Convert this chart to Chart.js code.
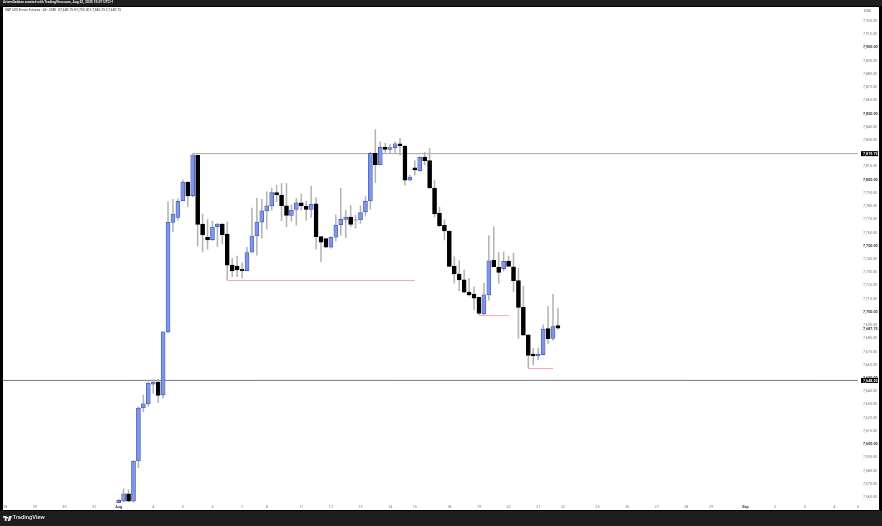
<!DOCTYPE html>
<html><head><meta charset="utf-8">
<script src="https://cdn.jsdelivr.net/npm/chart.js@4"></script>
<style>
html,body{margin:0;padding:0;width:882px;height:526px;background:#1e1e1e;overflow:hidden;font-family:Roboto,"Liberation Sans",sans-serif}
#frame{position:absolute;left:0;top:6px;width:882px;height:505px;background:#000}
#panel{position:absolute;left:3px;top:7px;width:876px;height:503px;background:#fff}
canvas{position:absolute;left:0;top:0}
.t{position:absolute;white-space:nowrap;line-height:1}
#head{left:3px;top:1.2px;font-size:3.4px;font-weight:700;color:#eee}
#title{left:5px;top:9.4px;font-size:3.4px;color:#333}
#usd{left:864px;top:9.5px;font-size:3.7px;color:#555}
#brand{left:12.6px;top:515px;font-size:5.8px;font-weight:500;color:#e8e8e8}
#logo{position:absolute;left:3px;top:515.5px}
</style></head><body>
<div id="frame"></div><div id="panel"></div>
<canvas id="c" width="882" height="526"></canvas>
<div class="t" id="head">ArtemGalaian created with TradingView.com, Aug 22, 2025 10:07 UTC+1</div>
<div class="t" id="title">S&amp;P 500 E-mini Futures · 4h · CME&nbsp; O7,689.75 H7,703.00 L7,686.75 C7,687.75</div>
<div class="t" id="usd">USD</div>
<svg id="logo" width="9" height="5" viewBox="0 0 36 20"><path fill="#e8e8e8" d="M0 0h14v20H7V7H0zM17 3a3.5 3.5 0 1 1 0 7 3.5 3.5 0 0 1 0-7zM24 0h12l-8 20h-9z"/></svg>
<div class="t" id="brand">TradingView</div>
<script>
const opens = [7555.75,7557,7562.5,7557,7587.5,7627.5,7630.5,7645.5,7647,7637.25,7685,7767.75,7771.5,7784.25,7798.25,7788,7818.5,7766.5,7756.5,7754.75,7764.5,7766.5,7759,7735.5,7734.75,7732.25,7731.25,7745.25,7757.5,7768,7776.5,7780.25,7790.25,7788.5,7780.25,7773,7777.5,7782.5,7780,7777.5,7781.75,7757,7755.5,7749,7756.5,7766,7770,7771.75,7769.5,7769.75,7775.75,7784,7820,7811.5,7824.5,7823,7824.25,7827.25,7825.5,7799.75,7809,7806.75,7817.25,7814.5,7793.75,7774.75,7765.5,7761.25,7734.5,7728.75,7724.25,7715,7713.5,7711,7698.75,7713,7739,7734,7732.75,7738.5,7734.25,7723.75,7703.5,7682.75,7668.25,7666.75,7667.75,7687.5,7680,7689.75];
const highs = [7558.25,7566.25,7565.5,7587.5,7628.25,7637.25,7647.25,7649,7649.25,7685,7783.5,7785.25,7785.5,7799.75,7798.5,7819.75,7818.75,7774,7770,7768.75,7767,7767,7768,7740.5,7742.25,7737.25,7749,7778.5,7786,7785.25,7791,7793.75,7796,7797.25,7797.25,7781,7786,7789.25,7783.75,7795.25,7786.5,7757.25,7755.5,7757,7773.25,7793.5,7777,7780.5,7773.25,7780.25,7787.25,7820.75,7838,7828.75,7827.5,7827,7828.75,7831.25,7826,7803.5,7814.5,7817.5,7820.75,7823.75,7799.75,7779.25,7770,7761.5,7741.75,7738.75,7731.75,7725.5,7719,7711.25,7721.75,7757.75,7764.5,7745,7745.5,7742.25,7744.5,7733,7719.5,7682.75,7672.5,7672.5,7690.25,7704.5,7713.5,7703];
const lows = [7555.75,7556.5,7556.5,7556.25,7582.25,7624.5,7628.5,7638.5,7631.5,7634.75,7684,7760.75,7769.5,7784,7779.5,7787,7750,7745.5,7747.5,7754,7749.5,7751.5,7724.25,7726.75,7726.75,7725.5,7731.25,7745,7743,7755.75,7762.75,7777,7783.5,7769,7764.5,7768.75,7765.75,7777,7769.5,7771.5,7747.5,7738,7748.5,7748.25,7753.75,7758,7756.25,7764.5,7763.25,7767,7772.5,7777.75,7797.75,7811.25,7820,7820,7820,7818.75,7796,7799.5,7803.5,7806.5,7811.25,7793.5,7772,7764.5,7754.5,7734.25,7721.75,7716,7714.5,7712,7701.5,7698.25,7697.75,7709,7734.25,7721.75,7731,7734.5,7715.25,7680,7682.5,7657.5,7660,7663.75,7667.5,7676.25,7678.75,7686.75];
const closes = [7557.5,7562.5,7557,7587.25,7627.25,7630.5,7646.25,7647,7637,7685,7767.75,7774,7783.75,7798.25,7787.75,7818.75,7766.25,7758.25,7754.5,7764.25,7766.5,7758.5,7735.5,7731,7731.75,7731.25,7745,7757.5,7768,7776.5,7780.25,7790.25,7788.75,7780.5,7773,7777,7782.5,7780.5,7777.5,7781.5,7757,7752.75,7749,7756.5,7765.75,7770,7771.75,7766.25,7769.75,7775.25,7783.75,7820,7811.5,7824.5,7823,7824.25,7827.25,7825.75,7799.75,7802,7807.5,7817,7814.5,7793.75,7774.25,7765.25,7761.25,7734.5,7728.75,7724.25,7715,7713,7710.5,7699,7713,7738.75,7734.25,7730,7738.25,7734.5,7723.75,7703.5,7682.5,7667.25,7666.75,7668,7687,7679.75,7689,7687.75];

const yTickValues = [7560,7570,7580,7590,7600,7610,7620,7630,7640,7650,7660,7670,7680,7690,7700,7710,7720,7730,7740,7750,7760,7770,7780,7790,7800,7810,7820,7830,7840,7850,7860,7870,7880,7890,7900,7910,7920];
const xTickLabels = ['28','29','30','31','Aug','4','5','6','7','8','11','12','13','14','15','18','19','20','21','22','25','26','27','28','29','Sep','2','3','4','5'];
const xTickBars = [-23,-17,-11,-5,0,7,13,19,25,30,37,43,49,55,60,67,73,79,85,90,97,103,109,115,120,127,133,139,145,149.75];

const resistanceLevel = 7819.75, supportLevel = 7648.25, lastPrice = 7687.75;
const xMin = -23.44, xMax = 149.8, yMin = 7554.8, yMax = 7929.9;
const sweepLows = [[22,60,7723.75],[73,79,7697.25],[83,88,7657.25]];

const idx = opens.map((_, i) => i);
const fmt = v => v.toLocaleString('en-US',{minimumFractionDigits:2,maximumFractionDigits:2});
const UP='#7d95ea', UPB='#3f52a6', DOWN='#000000';
const segment = (data,color,width)=>({type:'line',data,borderColor:color,borderWidth:width,pointRadius:0,order:3,fill:false,tension:0});

const datasets = [
  ...sweepLows.map(s=>segment([{x:s[0],y:s[2]},{x:s[1],y:s[2]}],'#f4a6ad',1)),
  segment([{x:15,y:resistanceLevel},{x:xMax,y:resistanceLevel}],'#a3a3a3',1),
  segment([{x:xMin,y:supportLevel},{x:xMax,y:supportLevel}],'#7a7a7a',1),
  {type:'bar',grouped:false,order:2,barThickness:0.9,backgroundColor:'#b4b4b4',borderWidth:0,
   data:idx.map(i=>({x:i,y:[lows[i],highs[i]]}))},
  {type:'bar',grouped:false,order:1,barThickness:4,borderSkipped:false,borderWidth:0.7,
   backgroundColor:idx.map(i=>closes[i]>=opens[i]?UP:DOWN),
   borderColor:idx.map(i=>closes[i]>=opens[i]?UPB:DOWN),
   data:idx.map(i=>({x:i,y:[opens[i],closes[i]]}))}
];

const priceTags = {id:'priceTags',afterDraw(ch){
  const g=ch.ctx,y=ch.scales.y;
  g.save();g.textBaseline='middle';g.textAlign='left';
  g.font='700 3.7px Roboto,"Liberation Sans",sans-serif';
  [resistanceLevel,supportLevel].forEach(v=>{
    const p=y.getPixelForValue(v);
    g.fillStyle='#000';g.fillRect(861,p-2.5,17,5);
    g.fillStyle='#fff';g.fillText(fmt(v),863,p+.2);
  });
  g.fillStyle='#333';g.fillText(fmt(lastPrice),863,y.getPixelForValue(lastPrice)+.8);
  g.restore();
}};

new Chart(document.getElementById('c'),{
  type:'bar',
  data:{datasets},
  plugins:[priceTags],
  options:{
    responsive:false,animation:false,devicePixelRatio:1,
    layout:{padding:{left:3,top:8,right:3,bottom:16}},
    plugins:{legend:{display:false},tooltip:{enabled:false}},
    scales:{
      x:{type:'linear',offset:false,min:xMin,max:xMax,
        grid:{display:false,drawTicks:false},border:{display:false},
        afterBuildTicks:s=>{s.ticks=xTickBars.map(value=>({value}));},
        afterFit:s=>{s.height=6;},
        ticks:{autoSkip:false,maxRotation:0,minRotation:0,padding:1,
          callback:(v,i)=>xTickLabels[i],
          color:c=>/[A-Z]/.test(xTickLabels[c.index]||'')?'#333':'#777',
          font:c=>({family:'Roboto,"Liberation Sans",sans-serif',size:3.7,weight:/[A-Z]/.test(xTickLabels[c.index]||'')?'700':'400'})}},
      y:{type:'linear',position:'right',min:yMin,max:yMax,
        grid:{display:false,drawTicks:false},border:{display:false},
        afterBuildTicks:s=>{s.ticks=yTickValues.map(value=>({value}));},
        afterFit:s=>{s.width=21;},
        ticks:{autoSkip:false,padding:5,crossAlign:'near',
          callback:v=>fmt(v),
          color:c=>c.tick&&c.tick.value%50===0?'#333':'#777',
          font:c=>({family:'Roboto,"Liberation Sans",sans-serif',size:3.7,weight:c.tick&&c.tick.value%50===0?'700':'400'})}}
    }
  }
});
</script>
</body></html>
